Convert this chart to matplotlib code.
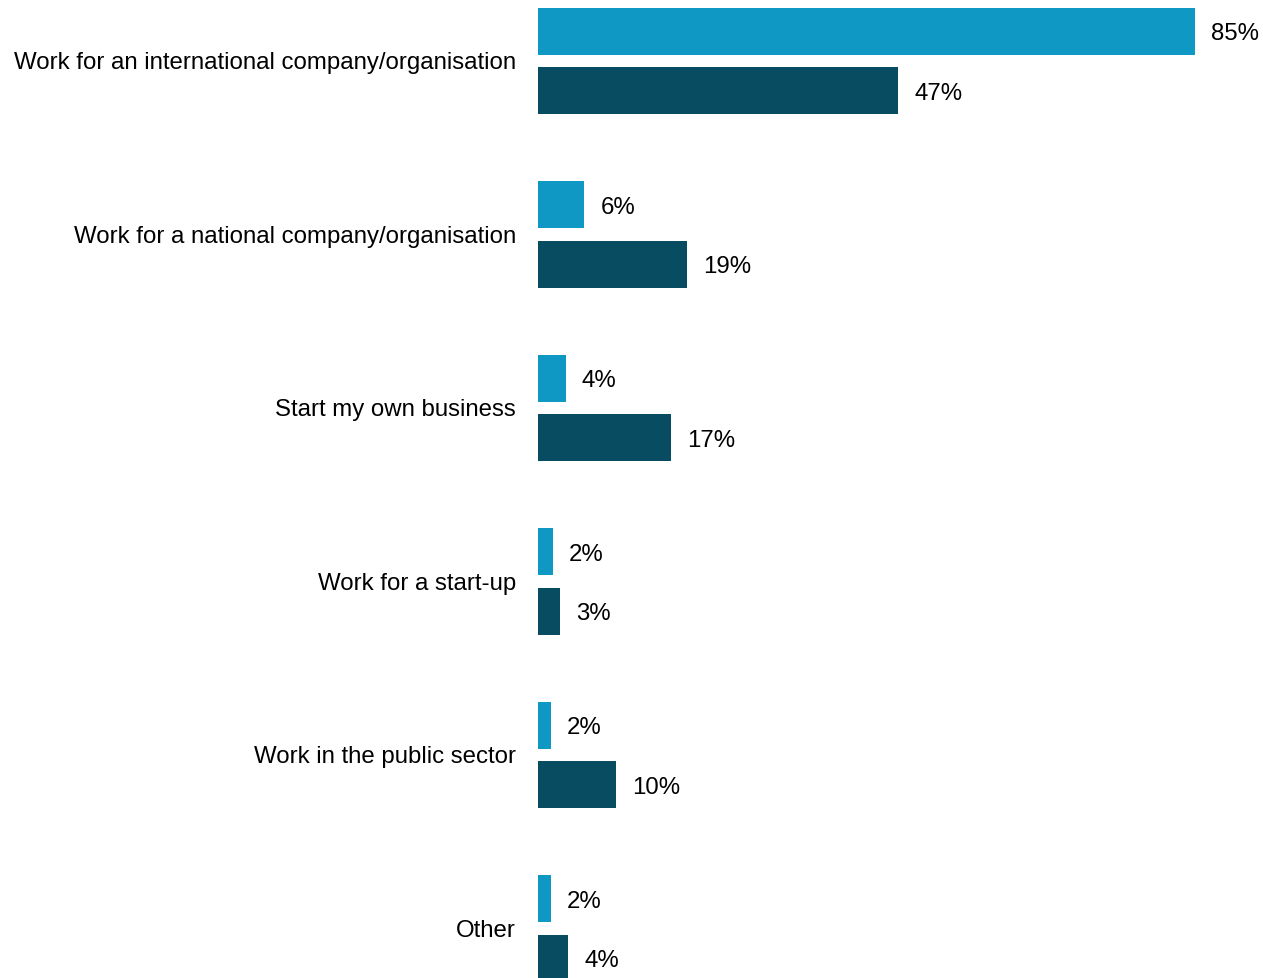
import numpy as np
import matplotlib.pyplot as plt

plt.rcParams['font.family'] = ['Liberation Sans', 'DejaVu Sans']

categories = ['Work for an international company/organisation',
              'Work for a national company/organisation',
              'Start my own business',
              'Work for a start-up',
              'Work in the public sector',
              'Other']
# values; labels show them rounded
series_a = [85.0, 6.0, 3.6, 1.95, 1.65, 1.65]
series_b = [46.6, 19.3, 17.2, 2.85, 10.1, 3.9]

light = '#0F98C4'
dark = '#084C61'

W, H = 1263, 979
fig = plt.figure(figsize=(W / 100, H / 100), dpi=100)
x0 = 538
ax = fig.add_axes([x0 / W, 0, (W - x0) / W, 1])

# pixel-ish y units, top down
step = 173.5
bh = 47
idx = np.arange(len(categories))
ya = 32 + step * idx
yb = 91.5 + step * idx

xmax = (W - x0) / 7.73
ax.barh(ya, series_a, height=bh, color=light)
ax.barh(yb, series_b, height=bh, color=dark)
ax.set_xlim(0, xmax)
ax.set_ylim(H, 0)
ax.axis('off')

fs = 17.3
off = 16 / 7.73
for y, v in zip(ya, series_a):
    ax.text(v + off, y + 2.5, f'{round(v)}%', va='center', ha='left', fontsize=fs)
for y, v in zip(yb, series_b):
    ax.text(v + off, y + 2.5, f'{round(v)}%', va='center', ha='left', fontsize=fs)

for y, c in zip((ya + yb) / 2, categories):
    ax.text(-22 / 7.73, y + 1.5, c, va='center', ha='right', fontsize=fs, clip_on=False)

fig.savefig('out.png', dpi=100)
